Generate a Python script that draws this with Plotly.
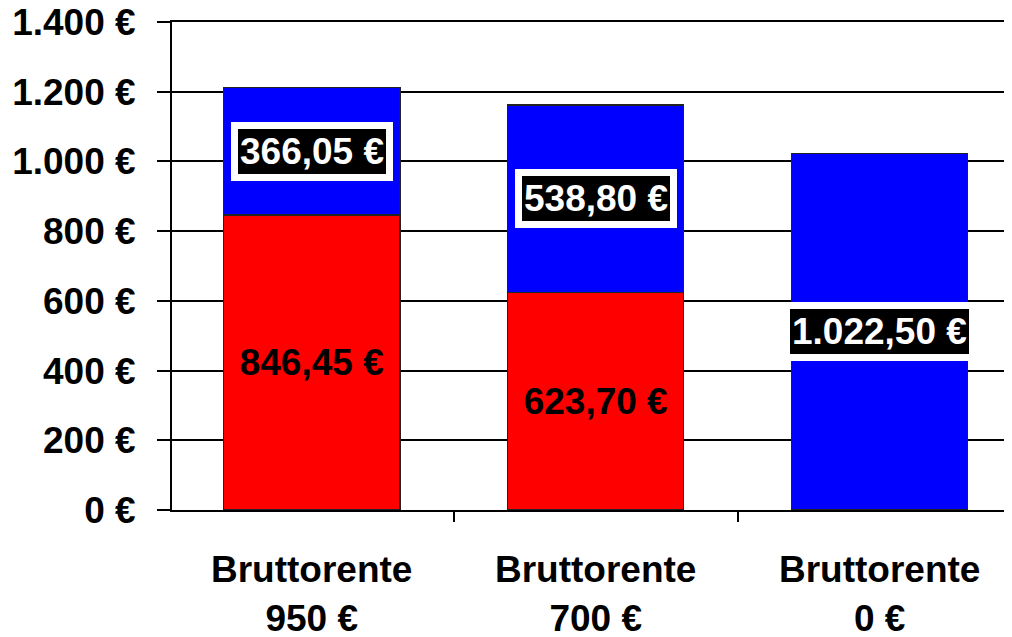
import plotly.graph_objects as go

categories = ["Bruttorente<br>950 €", "Bruttorente<br>700 €", "Bruttorente<br>0 €"]
red_values = [846.45, 623.70, 0.0]
blue_values = [366.05, 538.80, 1022.50]
y_ticks = [0, 200, 400, 600, 800, 1000, 1200, 1400]
y_tick_labels = ["0 €", "200 €", "400 €", "600 €", "800 €", "1.000 €", "1.200 €", "1.400 €"]

RED = "#FF0000"
BLUE = "#0000FF"
FONT = "Liberation Sans"


def de_eur(v):
    s = f"{v:,.2f}"
    s = s.replace(",", "X").replace(".", ",").replace("X", ".")
    return s + " €"


red_text = [de_eur(v) if v > 0 else "" for v in red_values]

fig = go.Figure()
fig.add_trace(go.Bar(
    x=categories, y=red_values, marker=dict(color=RED, line=dict(color="#222222", width=1.5)),
    width=0.62, text=red_text, textposition="inside", insidetextanchor="middle",
    textfont=dict(family=FONT, size=37, color="black", weight="bold"),
    constraintext="none", showlegend=False, hoverinfo="skip",
))
fig.add_trace(go.Bar(
    x=categories, y=blue_values, marker=dict(color=BLUE, line=dict(color="#222222", width=1.5)),
    width=0.62, showlegend=False, hoverinfo="skip",
))

for c, r, b in zip(categories, red_values, blue_values):
    fig.add_annotation(
        x=c, y=r + b / 2, xref="x", yref="y", text=de_eur(b), showarrow=False,
        font=dict(family=FONT, size=37, color="white", weight="bold"),
        bgcolor="black", bordercolor="white", borderwidth=7, borderpad=2,
    )

fig.update_layout(
    width=1012, height=637, barmode="stack", separators=",.",
    paper_bgcolor="white", plot_bgcolor="white",
    margin=dict(l=164, r=8, t=14, b=135),
    font=dict(family=FONT, size=37, color="black", weight="bold"),
)
fig.update_yaxes(
    range=[0, y_ticks[-1]], tickvals=y_ticks, ticktext=y_tick_labels,
    showgrid=True, gridcolor="black", gridwidth=2,
    showline=True, linecolor="black", linewidth=2,
    ticks="outside", ticklen=13, tickwidth=2, tickcolor="black",
    ticklabelstandoff=14, zeroline=False, automargin=False,
    ticklabeloverflow="allow",
    tickfont=dict(family=FONT, size=37, color="black", weight="bold"),
)
fig.update_xaxes(
    range=[-0.492, 2.466], tickson="boundaries",
    showline=True, linecolor="black", linewidth=2, mirror=True,
    ticks="outside", ticklen=10, tickwidth=2, tickcolor="black",
    ticklabelstandoff=26, automargin=False, ticklabeloverflow="allow",
    tickfont=dict(family=FONT, size=37, color="black", weight="bold"),
)

fig.write_html("out.html")
